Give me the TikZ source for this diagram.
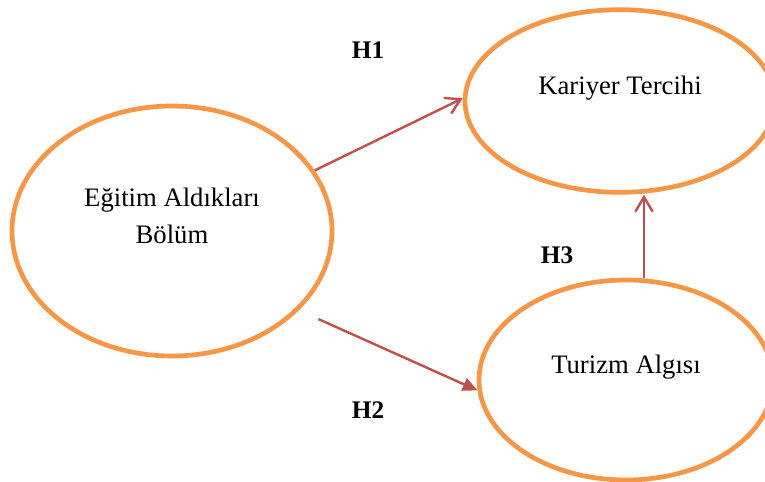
\documentclass[tikz,border=0pt]{standalone}
\usepackage{fontspec}
\setmainfont{Liberation Serif}
\usetikzlibrary{arrows.meta,positioning,shapes.geometric}

\definecolor{boxorange}{HTML}{F79646}
\definecolor{linkred}{HTML}{C0504D}

\begin{document}
\begin{tikzpicture}[
            x=0.75pt, y=-0.75pt,
            construct/.style={
                draw=boxorange, line width=3.5pt, ellipse, fill=white
            },
            caption/.style={
                align=center, font=\fontsize{20}{27.75}\selectfont
            },
            hyp/.style={font=\fontsize{19}{21}\selectfont\bfseries},
            link/.style={draw=linkred, line width=1.8pt}
        ]
        \useasboundingbox (0,0) rectangle (765,482);
        % constructs
        \node[construct, minimum width=240pt, minimum height=187.5pt] (egitim) at (172,231) {};
        \node[construct, minimum width=232.5pt, minimum height=137pt] (kariyer) at (620,101) {};
        \node[construct, minimum width=220.5pt, minimum height=150pt] (turizm) at (626,380) {};
        \node[caption] (egitimtxt) at ([yshift=11pt]egitim.center) {Eğitim Aldıkları\\Bölüm};
        \node[caption] (kariyertxt) at ([yshift=10pt]kariyer.center) {Kariyer Tercihi};
        \node[caption] (turizmtxt) at ([yshift=10pt]turizm.center) {Turizm Algısı};
        % hypotheses
        \draw[link, -{Straight Barb[length=11pt,width=13pt]}] (egitim.23) -- (kariyer.179);
        \draw[link, -{Triangle[length=11pt,width=10pt]}, shorten <=16pt] (egitim.-32) -- (turizm.-176);
        \draw[link, -{Straight Barb[length=11pt,width=13pt]}] ([xshift=13.5pt]turizm.north) -- ([xshift=18pt]kariyer.south);
        \node[hyp] (h1) at (368,50) {H1};
        \node[hyp] (h2) at (368,410) {H2};
        \node[hyp] (h3) at (557,255) {H3};
\end{tikzpicture}
\end{document}
